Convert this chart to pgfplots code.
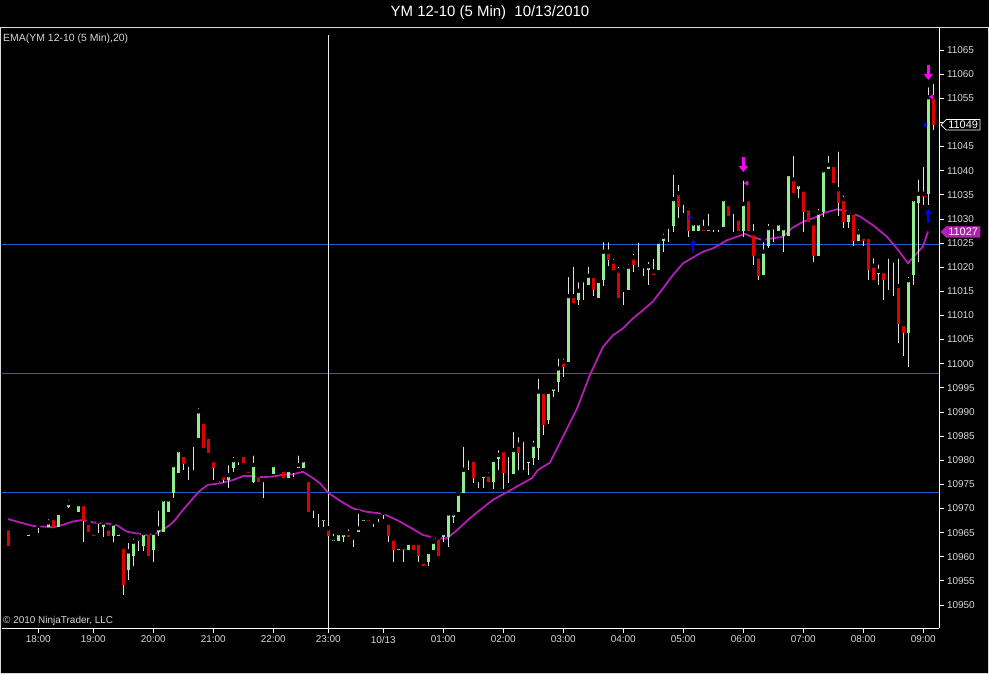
\documentclass[border=0pt]{standalone}
\usepackage{fontspec}
\setmainfont{Liberation Sans}
\usepackage{pgfplots}
\usepackage{pgfplotstable}
\pgfplotsset{compat=1.18}
\usetikzlibrary{arrows.meta,shapes.symbols}
\definecolor{cgreen}{RGB}{144,238,144}
\definecolor{cred}{RGB}{225,0,0}
\definecolor{wick}{RGB}{225,225,225}
\definecolor{ema}{RGB}{180,30,180}
\definecolor{hline}{RGB}{30,95,205}
\definecolor{lbl}{RGB}{215,215,215}
\definecolor{mag}{RGB}{255,0,255}
\definecolor{barrow}{RGB}{0,0,255}

\pgfplotstableread{
x o h l c
28.3 10964.2 10965.0 10964.2 10965.0
48.3 10966.2 10968.2 10966.2 10967.1
58.3 10966.2 10969.1 10966.2 10969.1
68.3 10970.2 10972.1 10970.2 10971.1
78.3 10969.3 10970.9 10969.3 10970.9
103.3 10966.2 10967.1 10964.0 10967.1
113.3 10964.2 10966.9 10963.1 10966.9
118.3 10964.2 10965.0 10964.2 10965.0
128.3 10957.3 10963.3 10955.2 10961.1
133.3 10960.2 10964.2 10958.1 10963.1
143.3 10962.2 10964.9 10961.1 10964.9
153.3 10961.3 10965.0 10959.0 10965.0
158.3 10965.2 10970.0 10964.2 10965.9
163.3 10965.2 10971.9 10965.2 10971.9
168.3 10969.3 10971.9 10969.3 10971.9
173.3 10973.3 10979.0 10972.1 10979.0
178.3 10977.3 10982.1 10977.3 10982.1
198.3 10984.5 10991.2 10984.5 10990.1
218.3 10975.4 10976.0 10975.4 10976.0
228.3 10976.0 10979.4 10974.2 10976.9
233.3 10978.3 10981.1 10977.6 10980.0
253.3 10975.4 10981.4 10975.2 10979.0
268.3 10975.4 10975.9 10975.4 10975.9
273.3 10977.1 10979.0 10977.1 10979.0
288.3 10976.3 10978.0 10976.3 10978.0
298.3 10978.3 10981.4 10978.3 10979.0
303.3 10978.3 10980.0 10978.3 10980.0
323.3 10967.3 10968.0 10966.1 10968.0
333.3 10963.3 10965.2 10963.3 10963.8
338.3 10963.3 10964.9 10963.3 10964.9
343.3 10964.0 10964.9 10963.1 10964.9
358.3 10965.2 10969.3 10965.2 10965.9
363.3 10967.3 10968.0 10967.3 10968.0
398.3 10961.3 10962.0 10961.3 10962.0
408.3 10961.3 10962.9 10961.3 10962.9
428.3 10959.0 10961.0 10958.0 10961.0
433.3 10961.3 10964.0 10961.3 10963.1
443.3 10964.0 10965.2 10963.1 10964.9
448.3 10964.0 10969.0 10962.1 10969.0
453.3 10968.3 10969.0 10966.9 10969.0
458.3 10969.3 10973.1 10969.3 10973.1
463.3 10973.3 10983.2 10973.3 10978.0
483.3 10976.3 10977.0 10974.2 10977.0
493.3 10975.4 10980.1 10974.0 10980.1
498.3 10980.2 10982.5 10978.0 10981.1
513.3 10977.1 10986.3 10977.1 10982.1
528.3 10979.4 10980.1 10977.0 10980.1
533.3 10980.4 10984.5 10979.0 10983.2
538.3 10982.5 10997.3 10980.1 10994.2
548.3 10988.3 10994.2 10987.6 10994.2
553.3 10994.4 10995.1 10993.2 10995.1
558.3 10996.3 11001.5 10994.2 10999.0
568.3 11000.4 11018.4 11000.4 11014.0
578.3 11013.3 11017.3 11012.2 11015.1
588.3 11016.3 11020.5 11016.3 11018.2
598.3 11013.6 11017.2 11013.6 11017.2
603.3 11017.3 11025.6 11016.1 11023.2
628.3 11015.3 11021.1 11015.3 11020.1
648.3 11019.4 11021.5 11016.3 11020.2
658.3 11019.4 11025.3 11019.4 11025.3
663.3 11025.5 11027.4 11023.2 11026.3
673.3 11028.5 11039.6 11027.2 11034.1
693.3 11027.4 11029.1 11027.4 11029.1
698.3 11027.4 11029.1 11027.4 11029.1
708.3 11027.4 11031.5 11027.4 11028.1
723.3 11028.3 11034.1 11028.3 11034.1
743.3 11027.4 11038.4 11026.3 11033.1
763.3 11018.4 11025.6 11018.4 11023.2
768.3 11024.4 11029.4 11023.9 11028.1
778.3 11027.4 11029.1 11027.4 11029.1
783.3 11026.5 11028.1 11023.2 11028.1
788.3 11026.5 11039.3 11026.5 11039.3
798.3 11036.3 11037.2 11034.3 11037.2
818.3 11022.3 11032.5 11022.3 11031.3
823.3 11031.5 11040.1 11030.3 11040.1
828.3 11040.3 11043.5 11040.3 11041.2
848.3 11029.4 11031.3 11028.1 11031.3
858.3 11025.5 11028.3 11025.5 11027.2
878.3 11018.5 11021.0 11016.3 11019.2
908.3 11006.4 11018.4 10999.3 11017.3
913.3 11018.4 11034.1 11016.3 11034.1
918.3 11033.2 11038.6 11021.1 11035.2
928.3 11035.2 11057.7 11032.9 11055.2
}\greentab

\pgfplotstableread{
x o h l c
8.3 10965.9 10965.9 10962.3 10962.3
53.3 10968.0 10968.0 10966.2 10966.2
83.3 10970.9 10970.9 10963.1 10967.3
88.3 10967.1 10967.1 10965.2 10965.2
93.3 10965.0 10965.0 10964.2 10964.2
108.3 10965.9 10965.9 10964.2 10964.2
123.3 10962.1 10962.1 10952.1 10954.2
138.3 10963.8 10964.2 10961.1 10963.3
148.3 10965.0 10965.0 10960.2 10960.2
183.3 10981.1 10981.1 10978.0 10979.2
203.3 10988.0 10988.0 10982.5 10982.5
208.3 10984.9 10984.9 10981.4 10981.4
213.3 10980.0 10980.0 10975.9 10978.3
223.3 10976.9 10976.9 10975.2 10976.0
243.3 10981.1 10981.1 10979.4 10979.4
248.3 10978.0 10978.0 10977.3 10977.3
258.3 10976.9 10976.9 10975.4 10975.4
263.3 10975.9 10975.9 10972.1 10975.4
283.3 10978.0 10978.0 10976.3 10976.3
308.3 10975.9 10975.9 10969.3 10969.3
328.3 10965.9 10965.9 10964.2 10964.2
348.3 10964.9 10966.1 10964.0 10964.0
368.3 10968.0 10968.0 10967.3 10967.3
388.3 10967.1 10967.1 10963.1 10964.2
393.3 10963.8 10963.8 10959.0 10961.3
403.3 10962.0 10962.0 10959.0 10961.3
413.3 10962.9 10962.9 10961.3 10961.3
418.3 10962.9 10962.9 10959.0 10960.2
423.3 10959.0 10959.0 10958.1 10958.1
438.3 10964.0 10964.0 10960.2 10960.2
473.3 10980.1 10980.1 10975.2 10976.3
478.3 10975.9 10975.9 10974.2 10975.4
488.3 10977.0 10978.0 10975.4 10975.4
503.3 10982.1 10982.1 10974.0 10977.3
518.3 10983.2 10985.2 10978.0 10981.4
543.3 10994.2 10994.2 10985.2 10987.3
563.3 11000.4 11001.5 10997.2 10999.4
573.3 11014.0 11020.5 11012.5 11012.5
593.3 11018.2 11018.2 11014.0 11015.3
608.3 11023.2 11025.6 11020.2 11021.5
613.3 11021.1 11022.2 11019.4 11019.4
618.3 11019.3 11020.5 11013.6 11013.6
633.3 11022.0 11023.2 11019.1 11020.5
653.3 11019.1 11022.2 11018.4 11018.4
678.3 11035.3 11037.5 11030.1 11032.5
688.3 11032.2 11032.2 11026.2 11027.4
703.3 11028.1 11030.3 11027.4 11027.4
728.3 11033.1 11033.1 11030.5 11030.5
738.3 11030.1 11030.1 11027.4 11027.4
748.3 11034.1 11034.1 11027.4 11027.4
753.3 11027.0 11029.4 11020.5 11022.3
758.3 11022.2 11023.2 11017.4 11018.2
793.3 11038.2 11043.5 11035.4 11035.4
803.3 11036.1 11036.1 11027.2 11031.5
808.3 11032.2 11032.2 11029.4 11029.4
813.3 11029.1 11029.1 11021.1 11022.3
833.3 11041.2 11041.2 11037.5 11037.5
838.3 11036.1 11044.4 11030.5 11033.2
843.3 11034.1 11035.3 11028.1 11029.4
853.3 11031.3 11031.3 11024.4 11025.5
863.3 11026.3 11026.3 11024.4 11025.5
868.3 11026.3 11026.3 11017.4 11019.5
873.3 11020.3 11022.3 11017.4 11017.4
883.3 11019.2 11019.2 11013.3 11017.4
898.3 11016.1 11022.2 11004.2 11008.2
903.3 11008.2 11008.2 11001.5 11006.4
923.3 11035.2 11041.2 11032.9 11034.5
933.3 11055.2 11058.4 11048.4 11049.5
}\redtab

\pgfplotstableread{
x h l
38.3 10966.4 10965.0
98.3 10967.3 10964.9
188.3 10979.1 10975.9
193.3 10983.2 10978.0
238.3 10980.0 10979.0
293.3 10977.8 10976.5
313.3 10970.0 10968.0
318.3 10969.3 10966.1
353.3 10964.0 10962.1
373.3 10967.3 10966.1
378.3 10968.3 10967.1
383.3 10969.1 10967.9
468.3 10980.4 10978.0
508.3 10981.1 10975.2
523.3 10984.2 10978.0
583.3 11017.3 11013.2
623.3 11015.3 11012.2
638.3 11025.5 11020.1
643.3 11020.2 11018.2
668.3 11028.4 11025.3
683.3 11033.4 11031.3
713.3 11028.2 11027.2
718.3 11028.2 11027.2
733.3 11031.5 11027.2
773.3 11028.3 11025.3
888.3 11022.2 11015.3
893.3 11021.4 11014.0
}\dojitab

\begin{document}
\begin{tikzpicture}
\useasboundingbox (-2bp,-46bp) rectangle (987bp,628bp);
\fill[black] (-2bp,-46bp) rectangle (987bp,628bp);
\begin{axis}[
  at={(0,0)}, anchor=south west, scale only axis,
  width=937bp, height=601bp,
  xmin=2, xmax=939, ymin=10945.23, ymax=11069.77,
  clip=false,
  axis x line*=bottom, axis y line*=right,
  x axis line style={-, draw=white, line width=0.8bp},
  y axis line style={-, draw=white, line width=0.8bp},
  xtick={38.3,93.3,153.3,213.3,273.3,328.3,383.3,443.3,503.3,563.3,623.3,683.3,743.3,803.3,863.3,923.3},
  xticklabels={18:00,19:00,20:00,21:00,22:00,23:00,10/13,01:00,02:00,03:00,04:00,05:00,06:00,07:00,08:00,09:00},
  ytick={10950,10955,10960,10965,10970,10975,10980,10985,10990,10995,11000,11005,11010,11015,11020,11025,11030,11035,11040,11045,11055,11060,11065},
  extra y ticks={11050}, extra y tick labels={},
  scaled y ticks=false,
  yticklabel style={/pgf/number format/fixed, /pgf/number format/precision=0, /pgf/number format/1000 sep={}},
  tick align=outside, major tick length=4.5bp,
  tick style={draw=white, line width=0.8bp},
  ticklabel style={text=lbl, font=\fontsize{10}{12}\selectfont},
  /pgf/number format/assume math mode=true,
  /pgf/number format/1000 sep={},
]
% reference lines
\addplot[hline, line width=1.2bp, forget plot] coordinates {(2,11024.75) (939,11024.75)};
\addplot[hline, line width=1.2bp, forget plot] coordinates {(2,10997.9) (939,10997.9)};
\addplot[hline, line width=1.2bp, forget plot] coordinates {(2,10973.35) (939,10973.35)};
\addplot[white!85!gray, line width=0.8bp, forget plot] coordinates {(328.3,10945.23) (328.3,11068.1)};
% EMA
\addplot[ema, line width=1.8bp, mark=none, forget plot] coordinates {
(8,10967.8)(20,10967.1)(33,10966.4)(53,10966.1)(63,10966.6)(73,10967.3)(82,10967.6)
(93,10967.1)(107,10966.9)(117,10966.5)(127,10965.2)(140,10964.7)(147,10964.5)(157,10964.9)
(165,10965.9)(170,10966.6)(175,10967.6)(183,10969.7)(193,10972.1)(200,10973.7)(208,10974.9)
(220,10975.2)(233,10975.9)(243,10976.7)(252,10976.7)(263,10976.5)(273,10976.6)(283,10977.0)
(293,10977.1)(303,10977.6)(313,10976.3)(320,10975.2)(328,10973.3)(340,10971.6)(353,10970.0)
(367,10969.3)(383,10968.9)(397,10967.6)(410,10966.1)(423,10964.5)(437,10963.8)(447,10963.8)
(457,10965.5)(470,10968.0)(482,10970.0)(493,10971.8)(508,10973.5)(520,10974.9)(532,10976.3)
(538,10978.0)(550,10979.5)(563,10984.9)(577,10990.7)(590,10997.7)(603,11003.5)(613,11005.9)
(623,11007.3)(633,11009.4)(643,11011.1)(653,11012.9)(663,11015.6)(673,11018.4)(683,11020.8)
(693,11022.0)(703,11023.2)(713,11023.9)(727,11025.6)(737,11026.3)(745,11026.9)(753,11026.2)
(763,11025.6)(773,11026.0)(783,11026.3)(792,11028.1)(803,11029.4)(815,11030.3)(825,11031.3)
(837,11032.0)(848,11031.5)(860,11030.5)(873,11028.7)(887,11026.3)(898,11023.6)(908,11020.8)
(915,11022.5)(923,11024.3)(928,11027.4)};
% wicks
\addplot[only marks, mark=none, forget plot,
  error bars/.cd, y dir=minus, y explicit, error mark=none,
  error bar style={draw=wick, line width=1bp, solid}]
  table[x=x, y=h, y error minus expr=\thisrow{h}-\thisrow{l}] {\greentab};
\addplot[only marks, mark=none, forget plot,
  error bars/.cd, y dir=minus, y explicit, error mark=none,
  error bar style={draw=wick, line width=1bp, solid}]
  table[x=x, y=h, y error minus expr=\thisrow{h}-\thisrow{l}] {\redtab};
\addplot[only marks, mark=none, forget plot,
  error bars/.cd, y dir=minus, y explicit, error mark=none,
  error bar style={draw=wick, line width=1bp, solid}]
  table[x=x, y=h, y error minus expr=\thisrow{h}-\thisrow{l}] {\dojitab};
% bodies
\addplot[only marks, mark=none, forget plot,
  error bars/.cd, y dir=minus, y explicit, error mark=none,
  error bar style={draw=cgreen, line width=3.6bp, solid}]
  table[x=x, y=c, y error minus expr=\thisrow{c}-\thisrow{o}] {\greentab};
\addplot[only marks, mark=none, forget plot,
  error bars/.cd, y dir=minus, y explicit, error mark=none,
  error bar style={draw=cred, line width=3.6bp, solid}]
  table[x=x, y=o, y error minus expr=\thisrow{o}-\thisrow{c}] {\redtab};
% trade markers
\addplot[barrow, line width=2.2bp, -{Triangle[width=6.5bp,length=5bp]}, forget plot] coordinates {(693.3,11023.2) (693.3,11025.7)};
\addplot[barrow, line width=2.2bp, -{Triangle[width=6.5bp,length=5bp]}, forget plot] coordinates {(928.3,11029.1) (928.3,11032.1)};
\addplot[mag, line width=3bp, -{Triangle[width=9bp,length=6bp]}, forget plot] coordinates {(743.3,11042.9) (743.3,11039.7)};
\addplot[mag, line width=3bp, -{Triangle[width=9bp,length=6bp]}, forget plot] coordinates {(928.3,11061.9) (928.3,11058.8)};
\addplot[only marks, mark=triangle*, mark size=2.6bp, mark options={fill=mag, draw=mag, rotate=90}, forget plot] coordinates {(746.7,11037.4) (931.7,11055.3)};
\addplot[only marks, mark=triangle*, mark size=2.2bp, mark options={fill=barrow, draw=barrow, rotate=-90}, forget plot] coordinates {(690,11030.3) (925,11049.5)};
% price tags
\node[signal, signal to=west, draw=white, fill=black, text=white, line width=0.7bp,
  font=\fontsize{11}{12}\selectfont, inner xsep=2bp, inner ysep=1.4bp, anchor=west]
  at (axis cs:940.5,11049.5) {11049};
\node[signal, signal to=west, draw=ema, fill=ema, text=white, line width=0.7bp,
  font=\fontsize{11}{12}\selectfont, inner xsep=2bp, inner ysep=1.4bp, anchor=west]
  at (axis cs:940.5,11027.3) {11027};
\end{axis}
\draw[white!70!gray, line width=0.8bp] (-1.6bp,-45.6bp) rectangle (986.6bp,601bp);
\node[text=white, font=\fontsize{15}{18}\selectfont] at (488bp,615bp) {YM 12-10 (5 Min)\ \ 10/13/2010};
\node[anchor=west, text=lbl, font=\fontsize{10.5}{12}\selectfont, inner sep=0pt] at (1bp,589bp) {EMA(YM 12-10 (5 Min),20)};
\node[anchor=west, text=lbl, font=\fontsize{10}{12}\selectfont, inner sep=0pt] at (1bp,7bp) {© 2010 NinjaTrader, LLC};
\end{tikzpicture}
\end{document}
